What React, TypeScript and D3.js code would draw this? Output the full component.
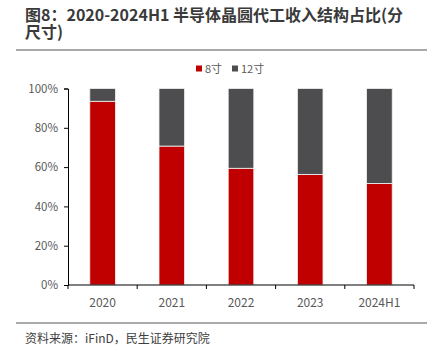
import { useEffect, useRef } from 'react';
import * as d3 from 'd3';

const categories = ['2020', '2021', '2022', '2023', '2024H1'];
const inch8 = [93.5, 70.7, 59.4, 56.3, 51.7];
const inch12 = categories.map((_, i) => 100 - inch8[i]);
const seriesNames = ['8寸', '12寸'];
const yTicks = [0, 20, 40, 60, 80, 100];

const FONT = '"Noto Sans CJK SC", "Noto Sans", sans-serif';

export default function App() {
  const svgRef = useRef<SVGSVGElement>(null);

  useEffect(() => {
    if (!svgRef.current) return;
    const width = 429;
    const height = 350;
    const margin = { top: 88.5, right: 15, bottom: 65, left: 68 };

    const svg = d3.select(svgRef.current);
    svg.selectAll('*').remove();

    // title
    const title = svg.append('text')
      .attr('font-family', FONT)
      .attr('font-weight', 'bold')
      .attr('font-size', 16)
      .attr('fill', '#3a3a3a');
    title.append('tspan').attr('x', 25).attr('y', 21).text('图8：2020-2024H1 半导体晶圆代工收入结构占比(分');
    title.append('tspan').attr('x', 25).attr('y', 38).text('尺寸)');

    svg.append('line')
      .attr('x1', 16).attr('x2', 427).attr('y1', 50).attr('y2', 50)
      .attr('stroke', '#555').attr('stroke-width', 1.2);

    // legend
    const colors = ['#C00000', '#4D4D4F'];
    const legendX = [196, 232];
    seriesNames.forEach((name, i) => {
      svg.append('rect')
        .attr('x', legendX[i]).attr('y', 65.5)
        .attr('width', 6).attr('height', 6)
        .attr('fill', colors[i]);
      svg.append('text')
        .attr('x', legendX[i] + 9).attr('y', 72.5)
        .attr('font-family', FONT).attr('font-size', 11)
        .attr('fill', '#595959')
        .text(name);
    });

    const x = d3.scaleBand()
      .domain(categories)
      .range([margin.left, width - margin.right])
      .paddingInner(0.63)
      .paddingOuter(0.315);

    const y = d3.scaleLinear()
      .domain([0, 100])
      .range([height - margin.bottom, margin.top]);

    const stackData = categories.map((c, i) => ({ cat: c, a: inch8[i], b: inch12[i] }));
    const stack = d3.stack<{ cat: string; a: number; b: number }>().keys(['a', 'b']);
    const layers = stack(stackData);

    layers.forEach((layer, li) => {
      svg.append('g').selectAll('rect')
        .data(layer)
        .join('rect')
        .attr('x', d => x(d.data.cat)!)
        .attr('width', x.bandwidth())
        .attr('y', d => y(d[1]))
        .attr('height', d => y(d[0]) - y(d[1]))
        .attr('fill', colors[li])
        .attr('stroke', '#f2f2f2')
        .attr('stroke-width', 0.8);
    });

    // y axis
    const yAxis = svg.append('g')
      .attr('transform', `translate(${margin.left},0)`)
      .call(d3.axisLeft(y).tickValues(yTicks).tickFormat(d => `${d}%`).tickSize(4).tickPadding(6));
    yAxis.select('.domain').attr('stroke', '#000');
    yAxis.selectAll('.tick line').attr('stroke', '#000');
    yAxis.selectAll('text').attr('font-family', FONT).attr('font-size', 11.5).attr('fill', '#595959');

    // x axis with boundary ticks
    const xLine = svg.append('g')
      .attr('transform', `translate(0,${height - margin.bottom})`);
    xLine.append('line')
      .attr('x1', margin.left).attr('x2', width - margin.right)
      .attr('stroke', '#000');
    const step = x.step();
    d3.range(categories.length + 1).forEach(i => {
      const xp = margin.left + i * step;
      xLine.append('line').attr('x1', xp).attr('x2', xp).attr('y1', 0).attr('y2', 4).attr('stroke', '#000');
    });
    xLine.selectAll('text.cat')
      .data(categories)
      .join('text')
      .attr('class', 'cat')
      .attr('x', d => x(d)! + x.bandwidth() / 2)
      .attr('y', 21.5)
      .attr('text-anchor', 'middle')
      .attr('font-family', FONT).attr('font-size', 12)
      .attr('fill', '#595959')
      .text(d => d);

    // footer
    svg.append('line')
      .attr('x1', 16).attr('x2', 427).attr('y1', 323).attr('y2', 323)
      .attr('stroke', '#555').attr('stroke-width', 1.2);
    svg.append('text')
      .attr('x', 25).attr('y', 342.5)
      .attr('font-family', FONT).attr('font-size', 12)
      .attr('fill', '#404040')
      .text('资料来源：iFinD，民生证券研究院');
  }, []);

  return (
    <svg ref={svgRef} width={429} height={350}
      style={{ position: 'absolute', left: 0, top: 0, background: '#fff' }} />
  );
}
